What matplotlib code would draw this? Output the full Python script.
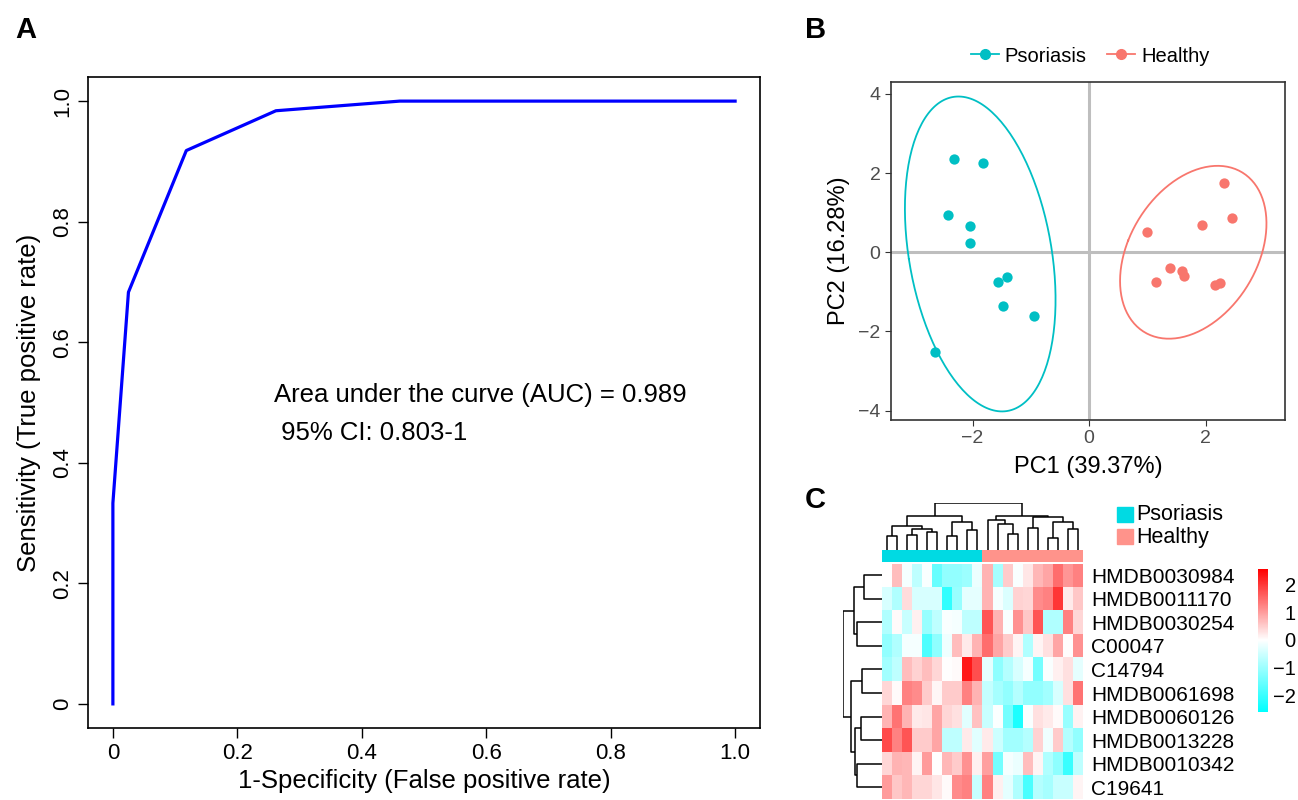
import numpy as np
import matplotlib
matplotlib.use("Agg")
import matplotlib.pyplot as plt
from matplotlib.colors import LinearSegmentedColormap, ListedColormap, Normalize
from matplotlib.lines import Line2D
from matplotlib.patches import Rectangle

plt.rcParams['font.family'] = ['Liberation Sans', 'DejaVu Sans']

# ---- A: ROC curve ----
roc_fpr = [0.0, 0.0, 0.025, 0.118, 0.262, 0.461, 1.0]
roc_tpr = [0.0, 0.333, 0.683, 0.918, 0.984, 1.0, 1.0]
auc_lines = ["Area under the curve (AUC) = 0.989", " 95% CI: 0.803-1"]

# ---- B: PCA scores ----
pso_pc1 = [-2.32, -1.83, -2.42, -2.04, -2.05, -1.41, -1.56, -1.47, -0.94, -2.65]
pso_pc2 = [2.35, 2.25, 0.93, 0.67, 0.24, -0.62, -0.76, -1.36, -1.62, -2.53]
hea_pc1 = [2.32, 2.45, 1.94, 0.99, 1.38, 1.60, 1.62, 1.15, 2.25, 2.16]
hea_pc2 = [1.75, 0.87, 0.68, 0.52, -0.40, -0.47, -0.61, -0.76, -0.77, -0.83]
groups = ['Psoriasis', 'Healthy']
pca_colors = ['#00BFC4', '#F8766D']

# ---- C: heatmap (rows/cols in displayed order) ----
metabolites = ['HMDB0030984', 'HMDB0011170', 'HMDB0030254', 'C00047', 'C14794',
               'HMDB0061698', 'HMDB0060126', 'HMDB0013228', 'HMDB0010342', 'C19641']
sample_group = [0] * 10 + [1] * 10
heat = np.array([
    [0.0, 0.65, -0.1, -0.65, -0.05, -1.55, -1.1, -1.1, -1.0, -0.2, 0.75, -0.9, 0.5, -0.05, 0.25, 0.7, 0.9, 1.45, 1.05, 1.25],
    [-0.4, -0.8, 0.35, -0.4, -0.4, -0.4, -2.1, -1.05, -0.25, -0.25, 0.75, -0.1, -0.35, 0.45, 0.4, 1.15, 1.25, 2.0, 0.2, 0.55],
    [-0.8, 0.05, -0.55, 0.15, -1.05, -0.65, -0.05, -0.1, -0.65, -0.65, 1.7, 0.75, -0.05, 1.1, 0.55, 1.7, -0.8, -0.8, 1.25, 0.4],
    [-1.1, -0.8, -0.1, -0.1, -1.8, -1.15, -0.15, 0.65, 0.2, 0.75, 1.45, 0.9, 0.5, 0.1, -0.8, 0.1, 0.3, 0.9, 0.03, 1.1],
    [-0.95, -0.65, 0.65, 0.45, 0.65, 0.4, 0.0, 0.05, 2.3, 1.75, -0.25, -1.15, -0.75, -0.4, -0.1, -1.4, -0.05, 0.15, 0.3, -0.25],
    [0.4, 0.05, 1.25, 1.15, 0.5, 0.08, 0.5, 0.5, 1.25, 0.75, -0.6, -0.9, -1.1, -0.75, -1.1, -1.1, -0.95, -0.4, 0.3, 1.4],
    [0.75, 1.4, 0.75, 0.2, 0.25, 0.9, 0.4, 0.3, -0.3, 0.6, -0.55, -0.03, -1.4, -2.3, -0.05, 0.3, 0.2, 0.05, -1.05, 0.12],
    [1.8, 1.25, 1.7, 0.5, 0.5, 0.9, -0.65, -0.65, 0.2, -0.3, 0.2, -0.5, -0.95, -0.95, -0.75, 0.45, -0.15, 0.5, -0.75, -1.1],
    [0.4, 0.75, 0.7, 0.1, 1.0, 0.0, 0.7, 0.5, 1.1, 0.15, 0.95, -1.4, -0.1, -0.2, 0.65, 0.1, -0.8, -1.15, -2.0, -0.65],
    [1.0, 0.55, 0.7, 0.4, 0.4, 0.25, 0.05, 1.15, 1.25, -0.55, 1.25, 0.15, -0.25, -0.8, -1.85, -0.75, -0.9, -0.55, -0.55, 0.1],
])
# dendrograms as nested (left, right, height); ints are leaf indices
col_tree = ((((0, 1, 40), ((2, 3, 43), (4, 5, 53), 62), 70), ((6, 7, 42), (8, 9, 60), 81), 100),
            ((10, (11, (12, 13, 48), 77), 87), ((14, 15, 65), ((16, 17, 35), (18, 19, 62), 82), 97), 100),
            137)
row_tree = ((((0, 1, 42), (2, 3, 60), 67)),
            ((4, 5, 47), ((6, 7, 50), (8, 9, 59), 64), 74),
            92)
anno_colors = ['#00DAE3', '#FF938B']

W, H = 1298, 800
fig = plt.figure(figsize=(W / 100, H / 100), dpi=100)


def px(l, t, r, b):
    return [l / W, 1 - b / H, (r - l) / W, (b - t) / H]


# ---------------- A ----------------
ax1 = fig.add_axes(px(88, 77, 760, 728))
ax1.plot(roc_fpr, roc_tpr, color='blue', lw=2.3)
ax1.set_xlim(-0.04, 1.04)
ax1.set_ylim(-0.04, 1.04)
ticks = [0, 0.2, 0.4, 0.6, 0.8, 1.0]
tlabels = ['0', '0.2', '0.4', '0.6', '0.8', '1.0']
ax1.set_xticks(ticks, tlabels)
ax1.set_yticks(ticks, tlabels, rotation=90, va='center')
ax1.tick_params(labelsize=16, length=7, width=1, direction='out')
ax1.set_xlabel('1-Specificity (False positive rate)', fontsize=18.5, labelpad=4)
ax1.set_ylabel('Sensitivity (True positive rate)', fontsize=18.5, labelpad=8)
ax1.text(0.259, 0.512, auc_lines[0], fontsize=18.5, va='center', ha='left')
ax1.text(0.259, 0.449, auc_lines[1], fontsize=18.5, va='center', ha='left')
for s in ax1.spines.values():
    s.set_linewidth(1.2)
fig.text(15 / W, 1 - 30 / H, 'A', fontsize=21, fontweight='bold', va='center')

# ---------------- B ----------------
ax2 = fig.add_axes(px(891, 82, 1285, 420))
ax2.axvline(0, color='#BEBEBE', lw=2.2, zorder=0)
ax2.axhline(0, color='#BEBEBE', lw=2.2, zorder=0)
level_scale = np.sqrt(-2 * np.log(1 - 0.95))
tt = np.linspace(0, 2 * np.pi, 200)
for xs, ys, col in [(pso_pc1, pso_pc2, pca_colors[0]), (hea_pc1, hea_pc2, pca_colors[1])]:
    xs, ys = np.array(xs), np.array(ys)
    ax2.scatter(xs, ys, s=55, color=col, zorder=3, linewidths=0)
    cov = np.cov(xs, ys)
    vals, vecs = np.linalg.eigh(cov)
    circ = np.vstack([np.cos(tt), np.sin(tt)]) * np.sqrt(vals)[:, None] * level_scale
    ell = vecs @ circ
    ax2.plot(ell[0] + xs.mean(), ell[1] + ys.mean(), color=col, lw=1.3)
ax2.set_xlim(-3.4, 3.36)
ax2.set_ylim(-4.24, 4.3)
ax2.set_xticks([-2, 0, 2])
ax2.set_yticks([-4, -2, 0, 2, 4])
ax2.tick_params(labelsize=14, length=4, color='#333333', labelcolor='#4D4D4D')
for s in ax2.spines.values():
    s.set_color('#333333')
    s.set_linewidth(1.2)
ax2.set_xlabel('PC1 (39.37%)', fontsize=17, labelpad=6)
ax2.set_ylabel('PC2 (16.28%)', fontsize=17, labelpad=6)
handles = [Line2D([0], [0], color=c, marker='o', markersize=7, lw=1.3) for c in pca_colors]
fig.legend(handles, groups, loc='center', bbox_to_anchor=(1090 / W, 1 - 56 / H), ncol=2,
           frameon=False, fontsize=14.5, handlelength=1.4, columnspacing=1.0, handletextpad=0.3)
fig.text(805 / W, 1 - 30 / H, 'B', fontsize=21, fontweight='bold', va='center')

# ---------------- C ----------------
cmap = LinearSegmentedColormap.from_list('cwr', [(0, '#00FFFF'), (2.6 / 5.15, 'white'), (1, '#FF0000')])
norm = Normalize(vmin=-2.6, vmax=2.55)

axh = fig.add_axes(px(882, 563.5, 1083, 799))
im = axh.imshow(heat, cmap=cmap, norm=norm, aspect='auto', interpolation='nearest')
axh.set_xticks([])
axh.set_yticks(range(len(metabolites)), metabolites)
axh.yaxis.tick_right()
axh.tick_params(axis='y', length=0, labelsize=15, pad=6)
for s in axh.spines.values():
    s.set_visible(False)

axa = fig.add_axes(px(882, 550, 1083, 562))
axa.imshow([sample_group], cmap=ListedColormap(anno_colors), aspect='auto', interpolation='nearest')
axa.axis('off')


def draw_tree(ax, tree, vertical):
    def walk(node):
        if isinstance(node, int):
            return node + 0.5, 0.0
        l, r, h = node
        pl, hl = walk(l)
        pr, hr = walk(r)
        xs, hs = [pl, pl, pr, pr], [hl, h, h, hr]
        if vertical:
            ax.plot(xs, hs, color='black', lw=1.1, solid_capstyle='butt')
        else:
            ax.plot(hs, xs, color='black', lw=1.1, solid_capstyle='butt')
        return (pl + pr) / 2, h
    walk(tree)
    ax.axis('off')


axcd = fig.add_axes(px(882, 503, 1083, 550))
draw_tree(axcd, col_tree, True)
axcd.set_xlim(0, 20)
axcd.set_ylim(0, 138)

axrd = fig.add_axes(px(843, 563.5, 882, 799))
draw_tree(axrd, row_tree, False)
axrd.set_xlim(93, 0)
axrd.set_ylim(10, 0)

cax = fig.add_axes(px(1258, 569, 1268, 712))
cb = fig.colorbar(im, cax=cax, ticks=[-2, -1, 0, 1, 2])
cb.outline.set_visible(False)
cax.tick_params(length=0, labelsize=14.5, pad=20)
for lab in cax.get_yticklabels():
    lab.set_horizontalalignment('right')

for i, (g, c) in enumerate(zip(groups, anno_colors)):
    y0 = 507 + i * 22
    fig.patches.append(Rectangle((1117 / W, 1 - (y0 + 15) / H), 16 / W, 15 / H,
                                 transform=fig.transFigure, color=c))
    fig.text(1136 / W, 1 - (y0 + 8) / H, g, fontsize=15.5, va='center')
fig.text(805 / W, 1 - 500 / H, 'C', fontsize=21, fontweight='bold', va='center')

fig.savefig('out.png', dpi=100)
